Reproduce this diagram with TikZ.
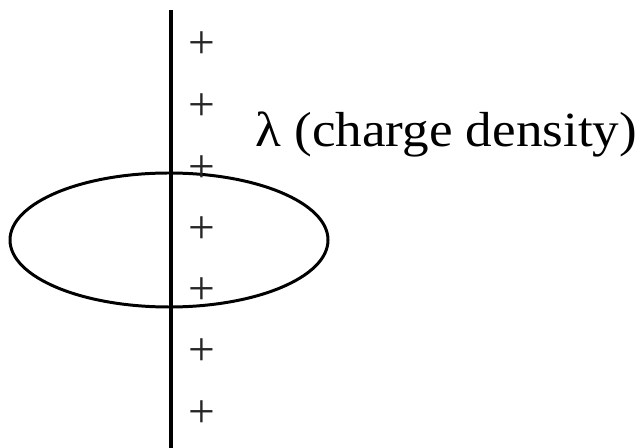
\documentclass[tikz,border=0pt]{standalone}
\usepackage{fontspec}
\setmainfont{Liberation Serif}
\usetikzlibrary{positioning}

\begin{document}
\begin{tikzpicture}[
        x=0.02cm, y=-0.02cm,
        wire/.style={line width=2.2pt, black},
        surface/.style={line width=1.7pt, black},
        charge/.style={font=\fontsize{27}{27}\selectfont, text=black!85, inner sep=0pt},
        label/.style={font=\fontsize{28}{30}\selectfont, inner sep=0pt, anchor=base west, xscale=1.08}
    ]
        \useasboundingbox (0,0) rectangle (641,448);

        % Line of charge
        \coordinate (top) at (171,10);
        \coordinate (bottom) at (171,448);
        \draw[wire] (top) -- (bottom);

        % Gaussian surface
        \draw[surface] (169,240) ellipse (159 and 67);

        % Charges along the line
        \foreach \i [count=\n] in {45,107,169,230,291,352,414}
            \node[charge] (q\n) at (202,\i) {+};

        % Label
        \node[label] (lambda) at (255,147) {λ (charge density)};
\end{tikzpicture}
\end{document}
